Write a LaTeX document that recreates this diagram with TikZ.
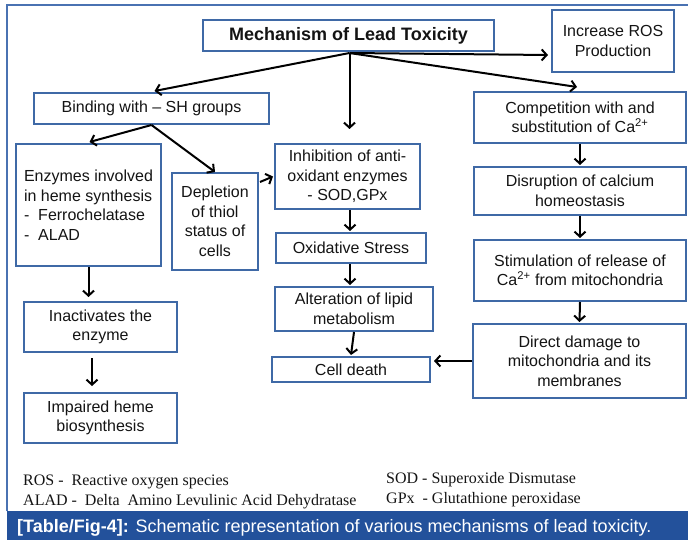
\documentclass[tikz,border=0pt]{standalone}
\usepackage{fontspec}
\setmainfont{Liberation Sans}
\newfontfamily\legfont{Liberation Serif}
\usetikzlibrary{arrows.meta,calc}
\definecolor{boxblue}{HTML}{3F69A6}
\definecolor{capblue}{HTML}{23519B}
\definecolor{framblue}{HTML}{4A72B2}
\definecolor{txt}{HTML}{141414}
\begin{document}
\begin{tikzpicture}[x=1pt,y=-1pt,
 box/.style={draw=boxblue,line width=2pt,fill=white,text=txt,align=center,inner sep=0pt,font=\fontsize{16}{19.5}\selectfont},
 arr/.style={draw=black,line width=2pt,-{Straight Barb[length=5pt,width=11pt]}},
 leg/.style={anchor=base west,inner sep=0pt,text=txt,font=\legfont\fontsize{16}{18}\selectfont},
]
\useasboundingbox (0,0) rectangle (688,540);
\fill[white] (0,0) rectangle (688,540);
\draw[framblue,line width=1.5pt] (7,511) -- (7,5) -- (688,5);
\fill[capblue] (7,511) rectangle (688,540);

% boxes
\node[box,minimum width=291,minimum height=31,font=\bfseries\fontsize{18}{20}\selectfont] (title) at (348.5,35.5) {Mechanism of Lead Toxicity};
\node[box,minimum width=122,minimum height=62] (ros) at (613,41) {Increase ROS\\Production};
\node[box,minimum width=235,minimum height=31] (bind) at (151.5,108.5) {Binding with -- SH groups};
\node[box,minimum width=145,minimum height=122,align=left] (enz) at (88.5,205) {Enzymes involved\\in heme synthesis\\-\ \ Ferrochelatase\\-\ \ ALAD};
\node[box,minimum width=86,minimum height=97] (depl) at (215,221.5) {Depletion\\of thiol\\status of\\cells};
\node[box,minimum width=145,minimum height=65] (inhib) at (347.5,176.5) {Inhibition of anti-\\oxidant enzymes\\- SOD,GPx};
\node[box,minimum width=150,minimum height=30] (oxid) at (351,248) {Oxidative Stress};
\node[box,minimum width=158,minimum height=44] (lipid) at (354,309) {Alteration of lipid\\metabolism};
\node[box,minimum width=158,minimum height=25] (cell) at (351,369.5) {Cell death};
\node[box,minimum width=153,minimum height=50] (inact) at (100.5,327) {Inactivates the\\enzyme};
\node[box,minimum width=153,minimum height=50] (impair) at (100.5,418) {Impaired heme\\biosynthesis};
\node[box,minimum width=212,minimum height=51] (comp) at (580,117.5) {Competition with and\\substitution of Ca\textsuperscript{2+}};
\node[box,minimum width=212,minimum height=48] (disr) at (580,191) {Disruption of calcium\\homeostasis};
\node[box,minimum width=212,minimum height=61] (stim) at (580,270.5) {Stimulation of release of\\Ca\textsuperscript{2+} from mitochondria};
\node[box,minimum width=213,minimum height=74] (direct) at (579.5,361) {Direct damage to\\mitochondria and its\\membranes};

% arrows
\coordinate (hub) at ($(title.south)+(1,1)$);
\draw[arr] (hub) -- ($(bind.north)+(3,-1)$);
\draw[arr] (hub) -- ($(hub |- inhib.north)+(0,-14)$);
\draw[arr] (hub) -- ($(ros.west)+(-3,14)$);
\draw[arr] (hub) -- ($(comp.north)+(-3,-4)$);
\draw[arr] (bind.south) -- ($(enz.north)+(1,-1)$);
\draw[arr] (bind.south) -- (depl.north);
\draw[arr] ($(depl.north east)+(1,10)$) -- ($(inhib.west)+(-1,0)$);
\draw[arr] (enz.south) -- ($(enz.south |- inact.north)+(0,-4)$);
\draw[arr] ($(inact.south)+(-8.5,5)$) -- ($(impair.north)+(-8.5,-6)$);
\draw[arr] ($(inhib.south -| oxid.north)+(-1,0)$) -- ($(oxid.north)+(-1,-1)$);
\draw[arr] ($(oxid.south)+(-1,0)$) -- ($(oxid.south |- lipid.north)+(-1,-1)$);
\draw[arr] (lipid.south) -- ($(cell.north)+(0,-1)$);
\draw[arr] (comp.south) -- ($(disr.north)+(0,-1)$);
\draw[arr] (disr.south) -- ($(stim.north)+(0,-1)$);
\draw[arr] (stim.south) -- ($(direct.north)+(0,-1)$);
\draw[arr] (direct.west) -- ($(direct.west -| cell.east)+(3,0)$);

% legend
\node[leg] (l1) at (23,485) {ROS -\ \ Reactive oxygen species};
\node[leg] (l2) at (23,505) {ALAD -\ \ Delta\ \ Amino Levulinic Acid Dehydratase};
\node[leg] (l3) at (386,483) {SOD - Superoxide Dismutase};
\node[leg] (l4) at (386,503) {GPx\ \ - Glutathione peroxidase};

% caption
\node[anchor=base west,inner sep=0pt,text=white,font=\fontsize{18}{20}\selectfont] (cap) at (17,532) {\textbf{[Table/Fig-4]:} Schematic representation of various mechanisms of lead toxicity.};
\end{tikzpicture}
\end{document}
